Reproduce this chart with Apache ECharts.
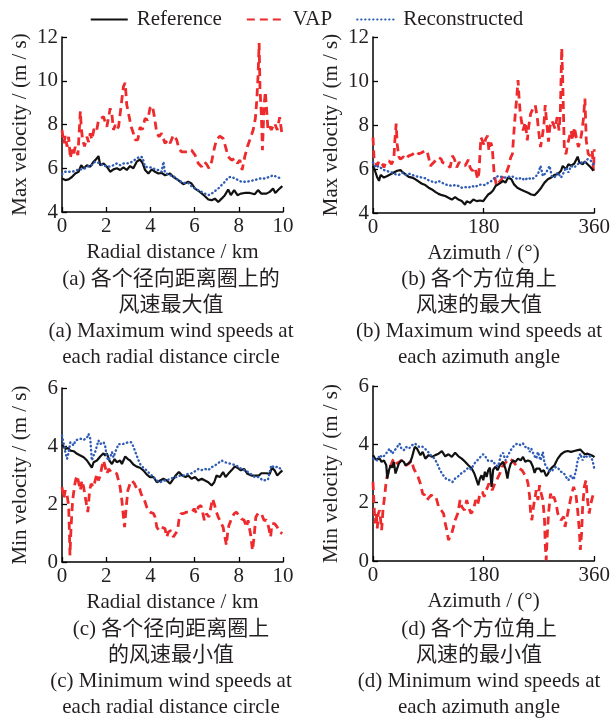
<!DOCTYPE html>
<html><head><meta charset="utf-8">
<script src="https://cdn.jsdelivr.net/npm/echarts@6/dist/echarts.min.js"></script>
<style>html,body{margin:0;padding:0;background:#fff}#c{width:613px;height:724px}</style>
</head><body><div id="c"></div>
<script>
const seriesNames = ['Reference', 'VAP', 'Reconstructed'];

// (a) max velocity vs radial distance (km)
const maxRadialRef = [[0,5.53],[0.15,5.46],[0.30,5.49],[0.45,5.6],[0.60,5.76],[0.75,5.84],[0.87,6.14],[0.98,5.99],[1.13,6.14],[1.28,6.07],[1.43,6.3],[1.58,6.45],[1.65,6.56],[1.73,6.14],[1.88,6.22],[2.03,6.07],[2.18,5.84],[2.33,5.95],[2.48,6.0],[2.63,5.92],[2.78,6.04],[2.93,5.92],[3.08,6.1],[3.23,6.0],[3.38,6.3],[3.53,6.4],[3.64,6.25],[3.76,5.92],[3.91,5.76],[4.06,5.95],[4.21,5.84],[4.36,5.76],[4.51,5.79],[4.66,5.68],[4.89,5.76],[5.04,5.6],[5.26,5.46],[5.49,5.27],[5.71,5.38],[5.86,5.3],[6.02,5.07],[6.24,4.92],[6.47,4.72],[6.62,4.57],[6.77,4.54],[6.92,4.61],[7.07,4.46],[7.22,4.61],[7.37,4.77],[7.52,5.03],[7.64,4.77],[7.79,5.0],[7.94,4.77],[8.09,4.84],[8.27,4.87],[8.50,4.87],[8.72,4.81],[8.87,5.0],[9.02,4.84],[9.25,4.84],[9.40,4.92],[9.55,5.07],[9.65,4.87],[9.80,5.03],[9.97,5.18]];
const maxRadialVap = [[0,7.75],[0.08,7.14],[0.15,7.47],[0.23,6.98],[0.30,7.44],[0.38,6.45],[0.45,6.9],[0.53,6.68],[0.60,6.98],[0.72,6.6],[0.83,8.6],[0.87,7.9],[0.93,7.3],[1.02,7.0],[1.13,7.44],[1.20,7.2],[1.28,7.6],[1.35,7.3],[1.47,7.9],[1.58,7.78],[1.65,8.2],[1.73,8.28],[1.88,8.36],[1.95,8.13],[2.03,7.9],[2.11,7.98],[2.18,8.74],[2.26,8.44],[2.33,7.75],[2.41,7.98],[2.48,7.78],[2.56,7.9],[2.68,8.9],[2.78,9.74],[2.86,9.9],[2.93,8.9],[3.01,8.5],[3.13,7.9],[3.23,7.6],[3.31,7.3],[3.43,7.3],[3.53,7.87],[3.64,7.78],[3.76,8.28],[3.88,8.2],[3.98,8.74],[4.09,8.85],[4.18,8.36],[4.29,7.6],[4.39,7.44],[4.51,7.6],[4.66,7.14],[4.81,7.3],[4.89,7.14],[5.04,7.52],[5.19,7.3],[5.29,6.9],[5.41,6.75],[5.71,6.75],[5.86,6.83],[6.02,6.6],[6.17,6.22],[6.32,6.07],[6.44,6.3],[6.54,6.19],[6.65,6.0],[6.77,6.3],[6.89,6.9],[6.99,7.3],[7.14,7.47],[7.29,7.36],[7.40,6.98],[7.52,6.53],[7.67,6.37],[7.82,6.45],[7.94,6.22],[8.05,6.37],[8.15,5.92],[8.27,6.53],[8.39,6.98],[8.50,7.3],[8.65,7.75],[8.75,8.28],[8.81,9.05],[8.87,10.2],[8.92,11.72],[8.96,9.6],[9.02,8.5],[9.07,6.83],[9.14,8.8],[9.20,9.5],[9.26,8.67],[9.32,7.75],[9.40,7.9],[9.47,7.75],[9.62,8.06],[9.74,7.75],[9.85,8.33],[9.97,7.44]];
const maxRadialRec = [[0,5.73],[0.15,5.84],[0.30,5.84],[0.45,5.84],[0.60,5.88],[0.75,5.95],[0.90,5.95],[1.05,6.0],[1.20,6.1],[1.35,6.14],[1.50,6.3],[1.58,6.37],[1.73,6.22],[1.88,6.1],[2.03,6.1],[2.18,6.07],[2.33,6.14],[2.48,6.22],[2.63,6.14],[2.78,6.22],[2.93,6.22],[3.08,6.25],[3.23,6.34],[3.38,6.45],[3.53,6.53],[3.64,6.5],[3.76,6.07],[3.91,6.04],[4.06,6.04],[4.21,5.95],[4.36,5.92],[4.51,5.84],[4.59,6.3],[4.66,5.79],[4.89,5.68],[5.04,5.64],[5.26,5.46],[5.49,5.33],[5.71,5.33],[5.86,5.18],[6.02,5.07],[6.24,4.96],[6.47,4.84],[6.62,4.77],[6.77,4.84],[6.92,4.96],[7.07,5.07],[7.22,5.23],[7.37,5.38],[7.52,5.58],[7.67,5.61],[7.82,5.53],[7.97,5.46],[8.12,5.38],[8.35,5.38],[8.57,5.43],[8.72,5.46],[8.95,5.53],[9.17,5.53],[9.40,5.61],[9.55,5.68],[9.70,5.61],[9.92,5.53]];

// (b) max velocity vs azimuth (deg)
const maxAzRef = [[0,6.14],[3.2,5.92],[7,5.61],[9.7,5.46],[12.4,5.73],[17.8,5.61],[23.2,5.68],[28.6,5.76],[33.9,5.84],[39.3,5.92],[44.7,5.95],[48.5,5.84],[52.8,5.76],[58.2,5.64],[63.6,5.61],[69,5.53],[74.4,5.43],[79.7,5.33],[85.1,5.27],[90.5,5.15],[95.9,5.07],[101.3,4.96],[106.7,4.87],[112.1,4.81],[117.5,4.77],[122.8,4.69],[128.2,4.61],[133.6,4.72],[139,4.61],[144.4,4.54],[149.8,4.38],[152.5,4.54],[157.9,4.46],[163.3,4.61],[168.6,4.54],[174,4.57],[179.4,4.54],[183.2,4.69],[187.5,4.84],[191.8,4.92],[195.6,5.03],[199.4,5.23],[203.7,5.3],[208,5.38],[211.7,5.46],[215.5,5.38],[219.8,5.61],[222.5,5.68],[225.2,5.53],[229.5,5.3],[234.9,5.15],[240.3,5.07],[245.7,5.0],[252.2,4.92],[257.5,4.84],[262.9,4.81],[268.3,4.96],[273.7,5.15],[279.1,5.38],[284.5,5.53],[289.9,5.61],[295.3,5.73],[300.6,5.76],[306,5.92],[308.7,6.14],[314.1,5.99],[317.9,6.22],[322.2,6.14],[327.6,6.25],[333,6.56],[335.7,6.3],[341.1,6.22],[344.8,6.34],[349.1,6.22],[354.5,6.07],[358.8,5.92]];
const maxAzVap = [[0,7.44],[1.6,6.53],[3.2,6.3],[7,6.14],[9.7,6.37],[12.4,6.3],[15.1,6.22],[17.8,6.07],[20.5,6.3],[23.2,6.22],[25.9,6.37],[30.2,6.22],[33.9,6.45],[35.6,7.3],[37.7,8.06],[39.3,7.14],[42,6.56],[44.7,6.45],[47.4,6.53],[50.1,6.56],[52.8,6.45],[58.2,6.6],[60.9,6.68],[63.6,6.65],[67.9,6.75],[71.7,6.8],[74.4,6.68],[77.1,6.6],[79.7,6.75],[84.1,6.83],[87.8,6.83],[90.5,6.53],[93.2,6.14],[95.9,6.07],[106.7,6.53],[111,6.45],[113.1,6.3],[120.1,6.22],[125.5,6.07],[129.3,6.6],[132.5,6.45],[136.3,6.07],[140.1,6.3],[144.4,6.22],[149.8,6.14],[155.2,6.42],[157.9,6.07],[161.6,5.92],[166,6.07],[170.3,5.53],[172.4,5.84],[175.6,7.44],[177.8,7.3],[181,7.06],[183.2,7.36],[186.4,7.52],[188.6,6.83],[191.8,7.2],[194,6.98],[195.6,6.37],[197.2,5.76],[201,5.23],[204.7,5.38],[209.1,5.53],[213.4,5.76],[217.1,5.84],[220.9,6.14],[224.1,6.53],[226.8,6.68],[229.5,7.75],[231.7,8.59],[233.8,9.2],[236,10.04],[237.6,9.26],[239.2,8.67],[241.4,8.2],[244.1,7.75],[247.8,8.13],[251.1,7.3],[253.2,7.9],[256.5,8.51],[260.2,8.74],[264,8.9],[267.2,8.36],[269.4,7.75],[272.6,7.0],[274.8,7.36],[278,7.98],[280.2,8.9],[282.3,8.2],[285.6,7.24],[287.7,7.9],[290.9,8.2],[293.1,8.06],[296.3,7.83],[299.6,8.36],[302.8,7.75],[304.9,8.67],[307.1,11.5],[308.7,10.04],[310.3,8.06],[311.4,6.83],[314.1,6.68],[316.8,7.14],[319.5,7.44],[322.2,7.75],[324.9,7.3],[327.6,7.9],[330.8,7.44],[334.1,7.0],[337.3,7.3],[339.4,7.6],[342.7,8.36],[344.8,9.2],[347,7.3],[350.2,6.68],[353.5,6.6],[356.7,6.83],[358.8,5.92],[360,6.9]];
const maxAzRec = [[0,6.3],[4.3,6.07],[9.7,6.14],[15.1,5.99],[20.5,5.92],[25.9,5.88],[31.3,5.84],[36.6,5.76],[42,5.73],[47.4,5.84],[52.8,5.73],[58.2,5.79],[63.6,5.73],[69,5.68],[74.4,5.64],[79.7,5.61],[85.1,5.58],[90.5,5.49],[95.9,5.43],[101.3,5.38],[106.7,5.46],[112.1,5.38],[117.5,5.3],[122.8,5.27],[128.2,5.23],[133.6,5.27],[139,5.23],[144.4,5.15],[149.8,5.18],[155.2,5.15],[160.6,5.23],[166,5.18],[171.3,5.27],[176.7,5.3],[182.1,5.27],[187.5,5.38],[192.9,5.46],[198.3,5.61],[203.7,5.68],[209.1,5.64],[214.4,5.61],[219.8,5.64],[225.2,5.68],[230.6,5.61],[236,5.53],[241.4,5.61],[246.8,5.49],[252.2,5.61],[257.5,5.53],[262.9,5.61],[268.3,5.76],[272.6,6.14],[276.4,5.68],[281.8,5.84],[287.2,6.14],[290.9,5.68],[295.3,5.61],[300.6,5.84],[306,5.61],[310.3,5.84],[314.1,6.07],[317.9,5.84],[322.2,6.14],[327.6,6.07],[333,6.22],[338.4,6.3],[343.8,6.25],[349.1,6.45],[354.5,6.37],[358.8,6.22]];

// (c) min velocity vs radial distance (km)
const minRadialRef = [[0,4.05],[0.08,4.02],[0.15,3.9],[0.27,3.93],[0.38,3.84],[0.53,3.82],[0.68,3.73],[0.83,3.67],[0.98,3.61],[1.13,3.5],[1.28,3.33],[1.35,3.25],[1.43,3.44],[1.58,3.5],[1.73,3.64],[1.88,3.75],[1.95,3.67],[2.03,3.75],[2.14,3.5],[2.26,3.38],[2.38,3.55],[2.48,3.44],[2.63,3.5],[2.71,3.38],[2.86,3.64],[2.98,3.55],[3.08,3.5],[3.23,3.36],[3.38,3.29],[3.53,3.25],[3.68,3.16],[3.83,3.02],[3.98,2.93],[4.14,2.93],[4.29,2.75],[4.44,2.81],[4.59,2.87],[4.74,2.81],[4.89,2.7],[5.04,2.87],[5.14,2.98],[5.29,3.1],[5.44,2.98],[5.59,2.93],[5.71,2.98],[5.86,2.87],[6.02,2.93],[6.17,2.81],[6.32,2.87],[6.47,2.81],[6.62,2.75],[6.77,2.64],[6.89,2.75],[6.99,2.98],[7.14,2.93],[7.29,3.1],[7.40,2.93],[7.52,3.04],[7.67,3.16],[7.82,3.29],[7.94,3.25],[8.09,3.16],[8.24,3.21],[8.39,3.04],[8.57,2.98],[8.72,2.98],[8.90,2.98],[9.02,3.06],[9.25,3.06],[9.40,3.04],[9.50,3.25],[9.62,3.16],[9.74,2.98],[9.89,3.1],[9.97,3.16]];
const minRadialVap = [[0,2.58],[0.08,2.18],[0.15,2.47],[0.23,2.3],[0.30,1.95],[0.33,1.2],[0.36,0.23],[0.41,1.2],[0.48,2.12],[0.57,2.64],[0.63,2.87],[0.69,2.98],[0.75,2.75],[0.83,2.47],[0.90,2.81],[0.98,2.58],[1.05,2.24],[1.13,1.9],[1.17,1.72],[1.25,2.47],[1.32,2.7],[1.43,2.58],[1.50,2.81],[1.58,3.04],[1.65,2.81],[1.73,2.98],[1.80,3.27],[1.88,3.5],[1.95,3.44],[2.03,3.04],[2.11,3.21],[2.23,3.1],[2.33,3.1],[2.41,3.16],[2.48,3.04],[2.56,2.81],[2.63,2.58],[2.71,2.12],[2.78,1.55],[2.83,1.2],[2.90,1.84],[2.98,2.47],[3.08,2.7],[3.16,2.81],[3.28,2.7],[3.38,2.53],[3.49,2.58],[3.58,2.35],[3.65,2.3],[3.76,2.07],[3.83,1.9],[3.98,1.72],[4.14,1.67],[4.21,1.55],[4.29,1.2],[4.39,1.09],[4.51,1.2],[4.66,1.15],[4.74,0.86],[4.81,1.03],[4.93,1.09],[5.04,0.86],[5.14,0.98],[5.23,1.09],[5.29,1.44],[5.38,1.67],[5.49,1.67],[5.64,1.72],[5.79,1.72],[5.89,1.72],[5.98,1.84],[6.09,1.67],[6.17,1.9],[6.29,1.95],[6.36,1.72],[6.44,1.44],[6.54,1.67],[6.65,1.55],[6.74,1.9],[6.81,2.18],[6.89,2.0],[6.99,1.72],[7.07,1.55],[7.14,1.44],[7.22,1.38],[7.29,1.2],[7.37,0.86],[7.44,0.58],[7.49,0.98],[7.55,1.26],[7.67,1.49],[7.79,1.67],[7.89,1.72],[8.00,1.61],[8.12,1.49],[8.24,1.44],[8.35,1.2],[8.42,1.44],[8.54,0.92],[8.62,0.4],[8.69,0.86],[8.77,1.55],[8.87,1.67],[8.95,1.72],[9.02,1.67],[9.14,1.44],[9.25,1.44],[9.35,1.2],[9.44,0.86],[9.50,1.32],[9.62,1.32],[9.74,1.2],[9.85,1.03],[9.97,0.98]];
const minRadialRec = [[0,4.36],[0.08,4.07],[0.15,3.79],[0.23,3.56],[0.30,3.79],[0.38,4.13],[0.45,4.19],[0.53,4.02],[0.60,4.19],[0.68,4.21],[0.83,4.25],[0.98,4.21],[1.13,4.28],[1.20,4.42],[1.28,4.25],[1.35,3.5],[1.43,3.67],[1.50,3.79],[1.58,3.73],[1.65,4.19],[1.73,4.07],[1.88,4.13],[1.95,4.02],[2.03,3.61],[2.11,3.5],[2.18,3.61],[2.26,3.79],[2.33,3.61],[2.41,3.79],[2.56,4.07],[2.71,4.05],[2.86,4.1],[3.01,4.13],[3.13,4.13],[3.23,3.98],[3.38,3.67],[3.53,3.38],[3.68,3.25],[3.83,3.16],[3.98,3.04],[4.14,2.93],[4.29,2.81],[4.44,2.75],[4.59,2.81],[4.74,2.81],[4.89,2.87],[5.04,2.9],[5.19,2.93],[5.34,2.98],[5.49,2.98],[5.71,3.04],[5.86,3.06],[6.02,3.13],[6.17,3.21],[6.32,3.17],[6.47,3.21],[6.62,3.17],[6.77,3.27],[6.92,3.33],[7.07,3.41],[7.22,3.5],[7.37,3.44],[7.52,3.41],[7.67,3.38],[7.89,3.33],[8.12,3.21],[8.35,3.13],[8.57,3.02],[8.72,2.93],[8.90,2.93],[9.10,2.81],[9.32,2.84],[9.47,3.33],[9.62,3.25],[9.77,3.29],[9.97,3.16]];

// (d) min velocity vs azimuth (deg)
const minAzRef = [[0,3.63],[4.3,3.48],[7,3.45],[10.8,3.51],[14,3.4],[17.8,3.45],[21.6,3.28],[23.2,2.83],[25.9,3.11],[28.6,3.28],[31.3,3.2],[33.9,3.4],[36.6,3.0],[39.3,2.94],[42,3.34],[46.3,3.45],[50.1,3.4],[52.8,3.28],[57.1,3.34],[60.9,3.4],[63.6,3.57],[67.9,3.91],[71.7,3.85],[74.4,3.74],[77.1,3.63],[80.8,3.74],[85.1,3.51],[90.5,3.63],[95.9,3.57],[101.3,3.63],[106.7,3.68],[112.1,3.77],[117.5,3.59],[122.8,3.66],[128.2,3.57],[133.6,3.71],[139,3.59],[144.4,3.51],[149.8,3.4],[155.2,3.28],[160.6,3.17],[164.9,3.0],[168.6,2.77],[171.3,2.6],[174,2.83],[176.7,2.94],[179.4,2.77],[182.1,3.06],[184.8,2.88],[187.5,3.11],[190.2,3.2],[192.9,2.54],[195.6,3.14],[199.4,3.23],[202.6,3.11],[206.4,3.28],[209.1,3.23],[211.7,3.4],[215.5,3.17],[218.8,2.83],[220.9,3.11],[224.1,3.34],[227.9,3.45],[231.7,3.4],[236,3.51],[240.3,3.45],[244.1,3.57],[247.8,3.4],[252.2,3.45],[256.5,3.4],[260.2,3.23],[262.9,3.02],[265.6,3.17],[268.3,3.11],[271,3.17],[273.7,3.06],[278,3.11],[281.8,2.91],[284.5,2.98],[287.2,3.11],[290.9,3.2],[295.3,3.28],[298,3.4],[300.6,3.51],[306,3.66],[311.4,3.74],[316.8,3.77],[322.2,3.74],[327.6,3.77],[333,3.8],[337.3,3.82],[341.1,3.74],[344.8,3.66],[349.1,3.68],[354.5,3.63],[358.8,3.59],[360,3.55]];
const minAzVap = [[0,2.71],[1.6,1.97],[3.2,1.29],[5.4,1.63],[7,1.12],[8.6,1.63],[10.8,1.74],[12.4,1.4],[14,1.06],[16.2,1.74],[19.4,2.31],[21.6,2.77],[24.8,3.06],[26.9,3.17],[30.2,3.34],[32.3,3.45],[35.6,3.51],[39.3,3.34],[42,3.4],[46.3,3.45],[50.1,3.34],[53.9,3.28],[58.2,3.34],[62.5,3.45],[66.3,3.17],[69,3.06],[73.3,2.88],[77.1,2.66],[80.8,2.31],[84.1,2.26],[87.8,2.09],[91.6,2.19],[94.8,2.26],[98.6,2.2],[102.4,2.2],[106.7,1.86],[111,1.74],[114.8,1.63],[117.5,1.29],[120.1,1.06],[122.8,0.72],[125.5,0.83],[128.2,0.95],[130.9,1.17],[133.6,1.4],[137.9,1.63],[141.7,2.09],[144.4,1.86],[148.7,1.74],[152.5,2.09],[155.2,1.86],[159.5,1.63],[163.3,1.74],[167,2.09],[170.3,1.92],[174,2.31],[177.8,2.37],[181,2.2],[183.2,2.37],[186.4,2.54],[188.6,2.66],[191.8,2.6],[194,2.43],[198.3,2.66],[202.6,2.83],[206.4,3.0],[210.1,3.23],[214.4,3.34],[218.8,3.45],[222.5,3.51],[226.3,3.45],[230.6,3.34],[234.9,3.23],[238.7,3.17],[242.5,3.11],[245.7,3.0],[249.5,2.88],[252.2,2.66],[254.9,2.2],[256.5,1.63],[258.6,1.4],[260.2,1.74],[262.9,2.09],[265.6,2.43],[268.3,2.09],[271,2.6],[273.7,2.31],[276.4,2.09],[279.1,1.4],[280.2,0.6],[281.8,0.03],[283.4,0.83],[285.6,1.63],[288.8,2.31],[290.9,2.09],[294.2,2.2],[298,1.97],[300.6,1.63],[303.3,1.69],[306,1.4],[310.3,1.52],[312.5,1.17],[315.7,1.52],[319.5,1.92],[323.3,2.31],[326.5,2.54],[330.3,2.26],[333,1.74],[335.7,1.06],[337.3,0.38],[339.4,0.95],[341.1,1.86],[343.8,2.54],[346.5,2.77],[349.1,2.09],[351.8,1.63],[354.5,1.97],[357.2,2.2],[360,2.37]];
const minAzRec = [[0,3.51],[3.2,3.57],[7,3.45],[10.8,3.63],[15.1,3.55],[19.4,3.63],[23.2,3.74],[26.9,3.85],[31.3,3.68],[35.6,3.8],[39.3,3.91],[43.1,4.03],[46.3,3.85],[50.1,3.8],[53.9,3.91],[58.2,3.85],[63.6,3.97],[67.9,4.03],[71.7,3.97],[75.4,3.91],[79.7,3.93],[84.1,3.85],[87.8,3.8],[91.6,3.68],[95.9,3.59],[100.2,3.51],[104,3.36],[107.8,3.17],[112.1,3.0],[116.4,2.88],[120.1,2.79],[125.5,2.77],[129.3,2.71],[133.6,2.83],[139,2.91],[144.4,3.02],[149.8,3.09],[155.2,3.2],[159.5,3.14],[163.3,3.28],[167,3.4],[171.3,3.48],[175.6,3.59],[179.4,3.66],[183.2,3.57],[187.5,3.43],[191.8,3.43],[195.6,3.43],[199.4,3.28],[203.7,3.25],[208,3.63],[211.7,3.71],[215.5,3.45],[219.8,3.63],[224.1,3.8],[227.9,3.91],[231.7,4.0],[236,4.03],[240.3,3.97],[244.1,4.03],[247.8,3.91],[252.2,3.91],[254.9,3.74],[257.5,3.85],[261.9,3.63],[265.6,3.51],[268.3,3.74],[272.6,3.45],[276.4,3.74],[279.1,3.34],[281.8,3.25],[285.6,3.11],[289.9,3.06],[294.2,3.17],[298,3.23],[301.7,3.17],[306,3.06],[310.3,3.02],[314.1,2.88],[317.9,2.77],[322.2,2.94],[326.5,2.79],[330.3,3.11],[333,3.45],[337.3,3.68],[341.1,3.45],[344.8,3.63],[349.1,3.55],[353.5,3.59],[357.2,3.45],[360,3.17]];

const xNames = ['Radial distance / km', 'Azimuth / (°)', 'Radial distance / km', 'Azimuth / (°)'];
const yNames = ['Max velocity / (m / s)', 'Max velocity / (m / s)', 'Min velocity / (m / s)', 'Min velocity / (m / s)'];
const captionsLeftTop = ['(a) 各个径向距离圈上的', '风速最大值', '(a) Maximum wind speeds at', 'each radial distance circle'];
const captionsRightTop = ['(b) 各个方位角上', '风速的最大值', '(b) Maximum wind speeds at', 'each azimuth angle'];
const captionsLeftBottom = ['(c) 各个径向距离圈上', '的风速最小值', '(c) Minimum wind speeds at', 'each radial distance circle'];
const captionsRightBottom = ['(d) 各个方位角上', '风速的最小值', '(d) Minimum wind speeds at', 'each azimuth angle'];

const FONT = "'Liberation Serif', 'Noto Sans CJK SC', serif";
const TXT = '#231f20';
const COLORS = ['#111111', '#ee2a2c', '#2f5cb6'];

const grids = [
  {left: 62, top: 37, width: 221, height: 175},
  {left: 373, top: 37, width: 223, height: 176},
  {left: 62, top: 388, width: 221, height: 174},
  {left: 373, top: 386, width: 223, height: 175}
];
const xRanges = [[0, 10, 2], [0, 360, 180], [0, 10, 2], [0, 360, 180]];
const yRanges = [[4, 12, 2], [4, 12, 2], [0, 6, 2], [0, 6, 2]];
const panelData = [
  [maxRadialRef, maxRadialVap, maxRadialRec],
  [maxAzRef, maxAzVap, maxAzRec],
  [minRadialRef, minRadialVap, minRadialRec],
  [minAzRef, minAzVap, minAzRec]
];

const axisCommon = {
  axisLine: {show: true, onZero: false, lineStyle: {color: '#000', width: 1.5}},
  axisTick: {show: true, inside: true, length: 5, lineStyle: {color: '#000', width: 1.3}},
  splitLine: {show: false},
  axisLabel: {color: TXT, fontSize: 21, fontFamily: FONT, margin: 4},
  nameLocation: 'middle',
  nameTextStyle: {color: TXT, fontSize: 21, fontFamily: FONT}
};

const xAxes = grids.map((g, i) => Object.assign({}, axisCommon, {
  type: 'value', gridIndex: i, min: xRanges[i][0], max: xRanges[i][1], interval: xRanges[i][2],
  name: xNames[i], nameGap: 30
}));
const yAxes = grids.map((g, i) => Object.assign({}, axisCommon, {
  type: 'value', gridIndex: i, min: yRanges[i][0], max: yRanges[i][1], interval: yRanges[i][2],
  name: yNames[i], nameGap: 31
}));

const lineStyles = [
  {color: COLORS[0], width: 2.2, type: 'solid'},
  {color: COLORS[1], width: 2.8, type: [8, 5]},
  {color: COLORS[2], width: 2.4, type: [0.4, 3.6], cap: 'round'}
];
const series = [];
panelData.forEach((arr, i) => {
  arr.forEach((d, k) => {
    series.push({
      name: seriesNames[k], type: 'line', xAxisIndex: i, yAxisIndex: i,
      data: d, showSymbol: false, symbol: 'none', smooth: false,
      lineStyle: lineStyles[k], itemStyle: {color: lineStyles[k].color},
      z: [3, 2, 4][k], silent: true, animation: false
    });
  });
});

function captionGraphics(lines, cx, y0, dy) {
  return lines.map((t, j) => ({
    type: 'text', x: cx, y: y0 + j * dy, silent: true,
    style: {text: t, fill: TXT, fontSize: 21, fontFamily: FONT, align: 'center', verticalAlign: 'middle'}
  }));
}
const graphics = [].concat(
  captionGraphics(captionsLeftTop, 171, 279, 26),
  captionGraphics(captionsRightTop, 479, 279, 26),
  captionGraphics(captionsLeftBottom, 171, 629, 26),
  captionGraphics(captionsRightBottom, 479, 629, 26)
);

const chart = echarts.init(document.getElementById('c'), null, {renderer: 'canvas'});
chart.setOption({
  animation: false,
  backgroundColor: '#fff',
  legend: {
    data: seriesNames, top: 4, left: 'center', itemWidth: 37, itemHeight: 14, itemGap: 24,
    itemStyle: {color: 'rgba(0,0,0,0)', borderColor: 'rgba(0,0,0,0)', borderWidth: 0, opacity: 0},
    textStyle: {color: TXT, fontSize: 21, fontFamily: FONT, padding: [0, 0, 0, 4]}
  },
  grid: grids,
  xAxis: xAxes,
  yAxis: yAxes,
  series: series,
  graphic: graphics
});
</script></body></html>
